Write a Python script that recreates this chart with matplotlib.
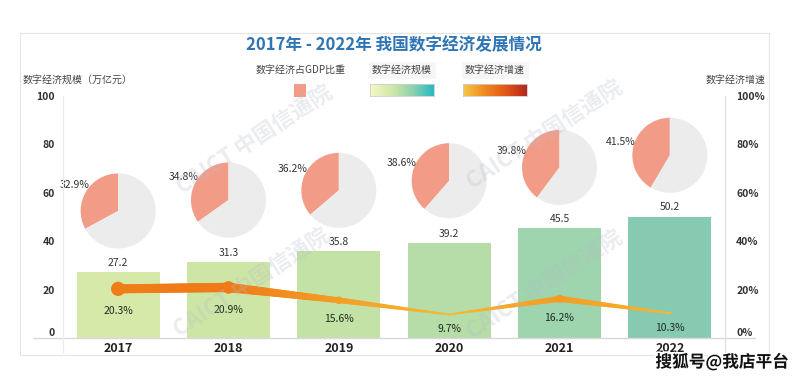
import numpy as np
import matplotlib
matplotlib.use('Agg')
import matplotlib.pyplot as plt
from matplotlib.collections import LineCollection
from matplotlib.colors import LinearSegmentedColormap, Normalize
import matplotlib.patheffects as pe

plt.rcParams['font.family'] = ['Noto Sans CJK SC', 'DejaVu Sans']

# ── Data ─────────────────────────────────────────────────────────────────────
years      = ['2017', '2018', '2019', '2020', '2021', '2022']
scale      = [27.2, 31.3, 35.8, 39.2, 45.5, 50.2]        # 万亿元
gdp_share  = [32.9, 34.8, 36.2, 38.6, 39.8, 41.5]        # %
growth     = [20.3, 20.9, 15.6, 9.7, 16.2, 10.3]         # %

# ── Style / layout ──────────────────────────────────────────────────────────
BAR_COLORS = ['#d6e9a9', '#cde6a6', '#c3e2a6', '#b6dca7', '#9ed4ae', '#86cbb1']
PIE_RED    = '#f29c88'
PIE_GREY   = '#ececec'
TXT        = '#333333'
TITLE_BLUE = '#2e75b6'
LINE_CMAP  = LinearSegmentedColormap.from_list('g', ['#f6b834', '#f3a126', '#ef7a17'])
SCALE_CMAP = LinearSegmentedColormap.from_list('s', ['#f5f6c6', '#d2e9a9', '#8fd1b0', '#27bcbf'])
SPEED_CMAP = LinearSegmentedColormap.from_list('v', ['#f6c646', '#ef8a1f', '#e35816', '#b5271f'])
PIE_Y      = [52.5, 57, 61, 65, 70.5, 75.5]   # pie centres, in left-axis units
W, H = 799, 378

fig = plt.figure(figsize=(W / 100, H / 100), dpi=100)
fig.patch.set_facecolor('white')

def fx(px): return px / W
def fy(py): return 1 - py / H

# outer frame
fig.add_artist(plt.Rectangle((fx(20), fy(355)), fx(749), 322 / H, transform=fig.transFigure,
                             fill=False, edgecolor='#e4e4e4', linewidth=0.8))

ax = fig.add_axes([fx(63), fy(338), fx(662), 242 / H])
x = np.arange(len(years))
ax.bar(x, scale, width=0.75, color=BAR_COLORS, zorder=2)
for xi, v in zip(x, scale):
    ax.annotate(f'{v:.1f}', (xi, v), xytext=(0, 3), textcoords='offset points',
                ha='center', va='bottom', fontsize=7.5, color=TXT)

ax.set_xlim(-0.5, len(years) - 0.5)
ax.set_ylim(0, 100)
ax.set_xticks(x)
ax.set_xticklabels(years, fontsize=9, fontweight='bold', color='#222222')
ax.set_yticks([0, 20, 40, 60, 80, 100])
ax.tick_params(axis='y', labelsize=7.5, colors=TXT, length=0, pad=6)
ax.tick_params(axis='x', length=0, pad=3)
for lab in ax.get_yticklabels():
    lab.set_fontweight('bold')
ax.get_yticklabels()[0].set_va('bottom')
for s in ax.spines.values():
    s.set_visible(False)

# growth line on right axis
ax2 = ax.twinx()
ax2.set_ylim(0, 100)
ax2.set_yticks([0, 20, 40, 60, 80, 100])
ax2.set_yticklabels([f'{t}%' for t in [0, 20, 40, 60, 80, 100]])
ax2.tick_params(axis='y', labelsize=7.5, colors=TXT, length=0, pad=8)
for lab in ax2.get_yticklabels():
    lab.set_fontweight('bold')
ax2.get_yticklabels()[0].set_va('bottom')
for s in ax2.spines.values():
    s.set_visible(False)

g = np.array(growth)
wpx = 1.5 + (g - 9.7) * 0.7
wpt = wpx * 0.72
norm = Normalize(9.7, 20.9)
segs, lws, cols = [], [], []
for i in range(len(x) - 1):
    t = np.linspace(0, 1, 40)
    xs = x[i] + t * (x[i + 1] - x[i])
    ys = g[i] + t * (g[i + 1] - g[i])
    ws = wpt[i] + t * (wpt[i + 1] - wpt[i])
    for k in range(len(t) - 1):
        segs.append([(xs[k], ys[k]), (xs[k + 1], ys[k + 1])])
        lws.append(ws[k])
        cols.append(LINE_CMAP(norm(ys[k])))
lc = LineCollection(segs, linewidths=lws, colors=cols, capstyle='round', zorder=3)
ax2.add_collection(lc)
msize = (wpt * 1.35) ** 2
msize[0] = (wpt[0] * 1.6) ** 2
ax2.scatter(x, g, s=msize, c=[LINE_CMAP(norm(v)) for v in g], zorder=4, linewidths=0)
for xi, v, w in zip(x, g, wpx):
    ax2.annotate(f'{v:.1f}%', (xi, v), xytext=(0, -(6 + w * 0.75)), textcoords='offset points',
                 ha='center', va='top', fontsize=7.5, color='#1e2b22')

# pies
for xi, yc, p in zip(x, PIE_Y, gdp_share):
    pa = ax.inset_axes([xi - 0.34, yc - 15.5, 0.68, 31], transform=ax.transData, zorder=5)
    pa.pie([p, 100 - p], colors=[PIE_RED, PIE_GREY], startangle=90, counterclock=True,
           wedgeprops=dict(linewidth=0))
    pa.set_xlim(-1, 1)
    pa.set_ylim(-1, 1)
    ang = np.deg2rad(90 + p / 100 * 180)
    pa.text(1.35 * np.cos(ang), 1.35 * np.sin(ang), f'{p:.1f}%', ha='center', va='center',
            fontsize=7.5, color=TXT, clip_on=False)

# axis lines
fig.add_artist(plt.Line2D([fx(33), fx(755)], [fy(338), fy(338)], transform=fig.transFigure,
                          color='#d8d8d8', linewidth=1.0))
fig.add_artist(plt.Line2D([fx(63), fx(63)], [fy(96), fy(352)], transform=fig.transFigure,
                          color='#ececec', linewidth=0.8))
fig.add_artist(plt.Line2D([fx(725), fx(725)], [fy(96), fy(355)], transform=fig.transFigure,
                          color='#dedede', linewidth=0.8))

# title, axis titles
fig.text(fx(394), fy(45), '2017年 - 2022年 我国数字经济发展情况', ha='center', va='center',
         fontsize=12, fontweight='bold', color=TITLE_BLUE)
fig.text(fx(23), fy(80), '数字经济规模（万亿元）', ha='left', va='center', fontsize=7.2, color='#444444')
fig.text(fx(766), fy(80), '数字经济增速', ha='right', va='center', fontsize=7.2, color='#444444')

# legend
fig.text(fx(301), fy(70), '数字经济占GDP比重', ha='center', va='center', fontsize=7.2, color='#444444')
fig.add_artist(plt.Rectangle((fx(294), fy(97)), fx(12), 13 / H, transform=fig.transFigure,
                             facecolor=PIE_RED, edgecolor='none'))
for cx, label, cmap in [(402, '数字经济规模', SCALE_CMAP), (495, '数字经济增速', SPEED_CMAP)]:
    fig.text(fx(cx), fy(70), label, ha='center', va='center', fontsize=7.2, color='#444444',
             bbox=dict(boxstyle='square,pad=0.35', facecolor='#f6f6f6', edgecolor='none'))
    la = fig.add_axes([fx(cx - 32), fy(96), fx(64), 12 / H])
    la.imshow(np.linspace(0, 1, 64)[None, :], aspect='auto', cmap=cmap)
    la.set_xticks([]); la.set_yticks([])
    for s in la.spines.values():
        s.set_color('#cccccc'); s.set_linewidth(0.6)

# watermarks
for cx, cy in [(255, 140), (252, 283), (545, 135), (545, 285)]:
    fig.text(fx(cx), fy(cy), 'CAICT 中国信通院', rotation=33, ha='center', va='center',
             fontsize=16, fontweight='bold', color='#b8bcc8', alpha=0.28, zorder=10)
fig.text(fx(722), fy(362), '搜狐号@我店平台', ha='center', va='center', fontsize=12,
         fontweight='bold', color='#111111', zorder=11,
         path_effects=[pe.withStroke(linewidth=2.5, foreground='white')])

fig.savefig('out.png', dpi=100, facecolor='white')
